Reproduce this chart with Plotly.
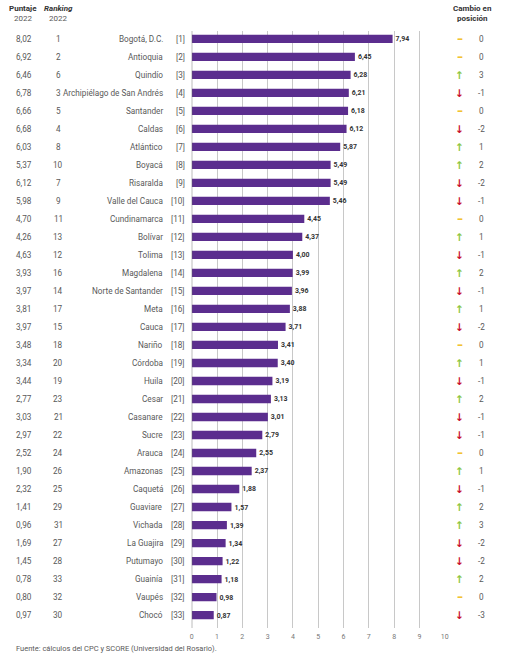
import plotly.graph_objects as go

# data
departamentos = ["Bogotá, D.C.", "Antioquia", "Quindío", "Archipiélago de San Andrés", "Santander",
                 "Caldas", "Atlántico", "Boyacá", "Risaralda", "Valle del Cauca", "Cundinamarca",
                 "Bolívar", "Tolima", "Magdalena", "Norte de Santander", "Meta", "Cauca", "Nariño",
                 "Córdoba", "Huila", "Cesar", "Casanare", "Sucre", "Arauca", "Amazonas", "Caquetá",
                 "Guaviare", "Vichada", "La Guajira", "Putumayo", "Guainía", "Vaupés", "Chocó"]
puntaje_2023 = [7.94, 6.45, 6.28, 6.21, 6.18, 6.12, 5.87, 5.49, 5.49, 5.46, 4.45,
                4.37, 4.00, 3.99, 3.96, 3.88, 3.71, 3.41, 3.40, 3.19, 3.13, 3.01,
                2.79, 2.55, 2.37, 1.88, 1.57, 1.39, 1.34, 1.22, 1.18, 0.98, 0.87]
puntaje_2022 = ["8,02", "6,92", "6,46", "6,78", "6,66", "6,68", "6,03", "5,37", "6,12", "5,98", "4,70",
                "4,26", "4,63", "3,93", "3,97", "3,81", "3,97", "3,48", "3,34", "3,44", "2,77", "3,03",
                "2,97", "2,52", "1,90", "2,32", "1,41", "0,96", "1,69", "1,45", "0,78", "0,80", "0,97"]
ranking_2022 = [1, 2, 6, 3, 5, 4, 8, 10, 7, 9, 11, 13, 12, 16, 14, 17, 15, 18, 20, 19, 23, 21,
                22, 24, 26, 25, 29, 31, 27, 28, 33, 32, 30]
cambio = [0, 0, 3, -1, 0, -2, 1, 2, -2, -1, 0, 1, -1, 2, -1, 1, -2, 0, 1, -1, 2, -1,
          -1, 0, 1, -1, 2, 3, -2, -2, 2, 0, -3]
x_ticks = list(range(0, 11))

W, H = 507, 656
FONT = "Roboto, sans-serif"
GREY = "#595959"
DARK = "#333333"
PURPLE = "#5b2d8e"
FS = 8.2

def px_x(p):
    return p / W

def px_y(p):
    return 1 - p / H

idx = list(range(len(departamentos)))

fig = go.Figure()
fig.add_trace(go.Bar(
    x=puntaje_2023, y=idx, orientation="h",
    marker=dict(color=PURPLE, line_width=0),
    width=0.46,
    text=[f"{v:.2f}".replace(".", ",") for v in puntaje_2023],
    textposition="outside",
    textfont=dict(family=FONT, size=8.4, color=DARK, weight="bold"),
    cliponaxis=False,
    hoverinfo="skip",
))

ann = []
for i in idx:
    ann.append(dict(x=px_x(22), y=i, xref="paper", yref="y", text=puntaje_2022[i],
                    showarrow=False, xanchor="center", font=dict(family=FONT, size=FS, color=GREY)))
    ann.append(dict(x=px_x(57), y=i, xref="paper", yref="y", text=str(ranking_2022[i]),
                    showarrow=False, xanchor="center", font=dict(family=FONT, size=FS, color=GREY)))
    ann.append(dict(x=px_x(165), y=i, xref="paper", yref="y", text=departamentos[i],
                    showarrow=False, xanchor="right", font=dict(family=FONT, size=FS, color=GREY)))
    ann.append(dict(x=px_x(187), y=i, xref="paper", yref="y", text=f"[{i + 1}]",
                    showarrow=False, xanchor="right", font=dict(family=FONT, size=FS, color=GREY)))
    c = cambio[i]
    if c > 0:
        sym, col, fs = "↑", "#8cc63f", 10.5
    elif c < 0:
        sym, col, fs = "↓", "#c8102e", 10.5
    else:
        sym, col, fs = "–", "#f2c230", 12
    ann.append(dict(x=px_x(463), y=i, xref="paper", yref="y", text=f"<b>{sym}</b>",
                    showarrow=False, xanchor="center", font=dict(family="DejaVu Sans", size=fs, color=col)))
    ann.append(dict(x=px_x(485), y=i, xref="paper", yref="y", text=str(c),
                    showarrow=False, xanchor="center", font=dict(family=FONT, size=FS, color=GREY)))

# column headers and source note
head = [
    dict(x=px_x(21), y=px_y(8), text="<b>Puntaje</b>", font=dict(family=FONT, size=8, color=DARK)),
    dict(x=px_x(21), y=px_y(18), text="2022", font=dict(family=FONT, size=8, color=GREY)),
    dict(x=px_x(57), y=px_y(8), text="<b><i>Ranking</i></b>", font=dict(family=FONT, size=8, color=DARK)),
    dict(x=px_x(57), y=px_y(18), text="2022", font=dict(family=FONT, size=8, color=GREY)),
    dict(x=px_x(476), y=px_y(9), text="<b>Cambio en</b>", font=dict(family=FONT, size=8, color=DARK)),
    dict(x=px_x(476), y=px_y(19), text="<b>posición</b>", font=dict(family=FONT, size=8, color=DARK)),
    dict(x=px_x(12), y=px_y(648), xanchor="left",
         text="Fuente: cálculos del CPC y SCORE (Universidad del Rosario).",
         font=dict(family=FONT, size=7.5, color=GREY)),
]
for a in head:
    a.update(xref="paper", yref="paper", showarrow=False, yanchor="middle")
    a.setdefault("xanchor", "center")
ann += head

fig.update_layout(
    width=W, height=H,
    margin=dict(l=0, r=0, t=0, b=0),
    paper_bgcolor="white", plot_bgcolor="white",
    showlegend=False,
    annotations=ann,
    xaxis=dict(domain=[px_x(192), px_x(448)], range=[0, 10], tickvals=x_ticks,
               showgrid=True, gridcolor="#c8c8c8", gridwidth=1, zeroline=False,
               showline=False, ticks="", ticklabelstandoff=3,
               tickfont=dict(family=FONT, size=7, color="#777777")),
    yaxis=dict(domain=[px_y(628), px_y(31)], range=[32.72, -0.44], showticklabels=False,
               showgrid=False, zeroline=False, showline=False),
    shapes=[dict(type="line", xref="x", yref="paper", x0=0, x1=0, y0=px_y(628), y1=px_y(31),
                 line=dict(color="#666666", width=1))],
)

fig.write_html("out.html", config={"displayModeBar": False},
               post_script="document.body.style.margin='0';")
